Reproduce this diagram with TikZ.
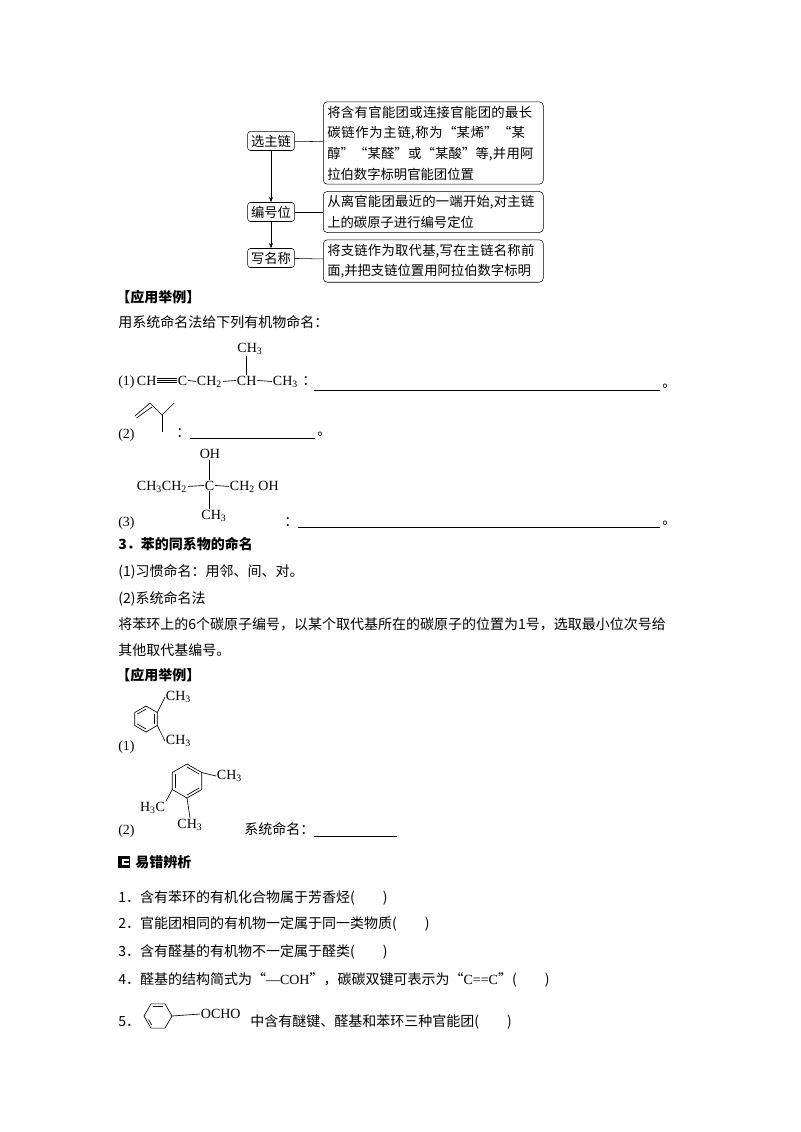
\documentclass[tikz,border=0pt]{standalone}
\usepackage{fontspec}
\setmainfont{Noto Sans CJK SC}
\newfontfamily\chem{Liberation Serif}
\XeTeXlinebreaklocale "zh"
\XeTeXlinebreakskip=0pt plus 1pt
\usetikzlibrary{arrows.meta}
\begin{document}
\begin{tikzpicture}[x=0.75pt,y=-0.75pt,
  txt/.style={anchor=base west,inner sep=0,font=\fontsize{10.5}{12}\selectfont},
  cf/.style={inner sep=0.5pt,font=\chem\fontsize{10.5}{12}\selectfont},
  lbox/.style={draw,rounded corners=2pt,inner sep=2.5pt,font=\fontsize{10}{12}\selectfont},
  rbox/.style={draw,rounded corners=3pt,inner sep=3pt,align=left,anchor=west,text width=159pt,font=\fontsize{10}{15.5}\selectfont},
  bond/.style={line width=0.5pt},
  ul/.style={line width=0.5pt}]
\useasboundingbox (0,0) rectangle (800,1132);
% flowchart
\node[lbox] (s1) at (271,141) {选主链};
\node[lbox] (s2) at (271,212) {编号位};
\node[lbox] (s3) at (271,258) {写名称};
\node[rbox] (r1) at (323,143) {将含有官能团或连接官能团的最长碳链作为主链,称为“某烯”“某醇”“某醛”或“某酸”等,并用阿拉伯数字标明官能团位置};
\node[rbox] (r2) at (323,212) {从离官能团最近的一端开始,对主链上的碳原子进行编号定位};
\node[rbox] (r3) at (323,261) {将支链作为取代基,写在主链名称前面,并把支链位置用阿拉伯数字标明};
\draw (s1) -- (r1); \draw (s2) -- (r2); \draw (s3) -- (r3);
\draw[-{Stealth[length=4pt,width=3pt]}] (s1) -- (s2);
\draw[-{Stealth[length=4pt,width=3pt]}] (s2) -- (s3);
% examples
\node[txt,font=\bfseries\fontsize{10.5}{12}\selectfont] (h1) at (116,302) {【应用举例】};
\node[txt] (t1) at (118,327) {用系统命名法给下列有机物命名：};
% (1)
\node[txt,font=\chem\fontsize{10.5}{12}\selectfont] (n1) at (118,385) {(1)};
\node[cf,anchor=base west] (a1) at (136,385) {CH};
\node[cf,anchor=base west] (a2) at (177,385) {C};
\node[cf,anchor=base west] (a3) at (196,385) {CH\textsubscript{2}};
\node[cf,anchor=base west] (a4) at (236,385) {CH};
\node[cf,anchor=base west] (a5) at (272,385) {CH\textsubscript{3}};
\node[cf] (a6) at (250,349) {CH\textsubscript{3}};
\foreach \d in {-1.5,0,1.5}{\draw[bond] ([yshift=\d pt]a1.east) -- ([yshift=\d pt]a2.west);}
\draw[bond] (a2.east) -- (a3.west);
\draw[bond] (a3.east) -- (a4.west);
\draw[bond] (a4.east) -- (a5.west);
\draw[bond] (a6.south -| a4) -- (a4.north);
\node[txt] (c1) at (302,385) {：};
\coordinate (l1a) at (314,390); \coordinate (l1b) at (660,390);
\draw[ul] (l1a) -- (l1b);
\node[txt] (p1) at (662,387) {。};
% (2)
\node[txt,font=\chem\fontsize{10.5}{12}\selectfont] (n2) at (118,438) {(2)};
\coordinate (b1) at (135,416); \coordinate (b2) at (150,403); \coordinate (b3) at (162,415);
\coordinate (b4) at (174,403); \coordinate (b5) at (162,432);
\draw[bond] (b1) -- (b2) -- (b3) -- (b4); \draw[bond] (b3) -- (b5);
\draw[bond] ([shift={(1.5,2)}]b1) -- ([shift={(2.2,3.8)}]b2);
\node[txt] (c2) at (176,437) {：};
\coordinate (l2a) at (190,438); \coordinate (l2b) at (315,438);
\draw[ul] (l2a) -- (l2b);
\node[txt] (p2) at (317,435) {。};
% (3)
\node[cf] (o1) at (210,454) {OH};
\node[cf,anchor=base west] (d1) at (136,490) {CH\textsubscript{3}CH\textsubscript{2}};
\node[cf,anchor=base west] (d2) at (204,490) {C};
\node[cf,anchor=base west] (d3) at (229,490) {CH\textsubscript{2} OH};
\node[cf] (m1) at (214,516) {CH\textsubscript{3}};
\draw[bond] (d1.east) -- (d2.west);
\draw[bond] (d2.east) -- (d3.west);
\draw[bond] (o1.south -| d2) -- (d2.north);
\draw[bond] (d2.south) -- (m1.north -| d2);
\node[txt,font=\chem\fontsize{10.5}{12}\selectfont] (n3) at (118,526) {(3)};
\node[txt] (c3) at (284,526) {：};
\coordinate (l3a) at (298,527); \coordinate (l3b) at (660,527);
\draw[ul] (l3a) -- (l3b);
\node[txt] (p3) at (662,524) {。};
% section 3
\node[txt,font=\bfseries\fontsize{10.5}{12}\selectfont] (h3) at (118,549) {3．苯的同系物的命名};
\node[txt] (t2) at (118,576) {(1)习惯命名：用邻、间、对。};
\node[txt] (t3) at (118,603) {(2)系统命名法};
\node[txt] (t4) at (118,629) {将苯环上的6个碳原子编号，以某个取代基所在的碳原子的位置为1号，选取最小位次号给};
\node[txt] (t5) at (118,655) {其他取代基编号。};
\node[txt,font=\bfseries\fontsize{10.5}{12}\selectfont] (h4) at (116,680) {【应用举例】};
% benzene 1
\begin{scope}[shift={(146,719)}]
\draw[bond] (90:13) -- (30:13) -- (-30:13) -- (-90:13) -- (-150:13) -- (150:13) -- cycle;
\draw[bond] (150:10) -- (90:10); \draw[bond] (-150:10) -- (-90:10); \draw[bond] (30:10) -- (-30:10);
\coordinate (e1) at (-30:13); \coordinate (e2) at (30:13);
\end{scope}
\node[cf,anchor=west] (x1) at (165,697) {CH\textsubscript{3}};
\node[cf,anchor=west] (x2) at (165,741) {CH\textsubscript{3}};
\draw[bond] (e1) -- (x1.west); \draw[bond] (e2) -- (x2.west);
\node[txt,font=\chem\fontsize{10.5}{12}\selectfont] (n4) at (118,750) {(1)};
% benzene 2
\begin{scope}[shift={(187,781)}]
\draw[bond] (90:17) -- (30:17) -- (-30:17) -- (-90:17) -- (-150:17) -- (150:17) -- cycle;
\draw[bond] (-90:14) -- (-30:14); \draw[bond] (150:14) -- (-150:14); \draw[bond] (90:14) -- (30:14);
\coordinate (f1) at (-30:17); \coordinate (f2) at (150:17); \coordinate (f3) at (90:17);
\end{scope}
\node[cf,anchor=west] (y1) at (216,776) {CH\textsubscript{3}};
\node[cf,anchor=east] (y2) at (166,808) {H\textsubscript{3}C};
\node[cf,anchor=north] (y3) at (190,818) {CH\textsubscript{3}};
\draw[bond] (f1) -- (y1.west); \draw[bond] (f2) -- (y2.north east); \draw[bond] (f3) -- (y3.north);
\node[txt,font=\chem\fontsize{10.5}{12}\selectfont] (n5) at (118,834) {(2)};
\node[txt] (t6) at (244,834) {系统命名：};
\coordinate (l4a) at (314,836); \coordinate (l4b) at (397,836);
\draw[ul] (l4a) -- (l4b);
% 易错辨析
\fill (118,856) rectangle (130,868);
\fill[white] (122,859) rectangle (129,865);
\fill (124,861) rectangle (129,863);
\node[txt,font=\bfseries\fontsize{10.5}{12}\selectfont] (h5) at (135,867) {易错辨析};
\node[txt] (q1) at (118,902) {1．含有苯环的有机化合物属于芳香烃(\hspace{2em})};
\node[txt] (q2) at (118,928) {2．官能团相同的有机物一定属于同一类物质(\hspace{2em})};
\node[txt] (q3) at (118,956) {3．含有醛基的有机物不一定属于醛类(\hspace{2em})};
\node[txt] (q4) at (118,984) {4．醛基的结构简式为“{\chem —COH}”，碳碳双键可表示为“{\chem C==C}”(\hspace{2em})};
\node[txt] (q5a) at (118,1026) {5．};
\begin{scope}[shift={(158,1016)}]
\draw[bond] (180:14) -- (120:14) -- (60:14) -- (0:14) -- (-60:14) -- (-120:14) -- cycle;
\draw[bond] (160:10) -- (125:11); \draw[bond] (-115:11) -- (-65:11);
\coordinate (g1) at (0:14);
\end{scope}
\node[cf,anchor=west] (z1) at (200,1014) {OCHO};
\draw[bond] (g1) -- (z1.west);
\node[txt] (q5) at (250,1026) {中含有醚键、醛基和苯环三种官能团(\hspace{2em})};
\end{tikzpicture}
\end{document}
